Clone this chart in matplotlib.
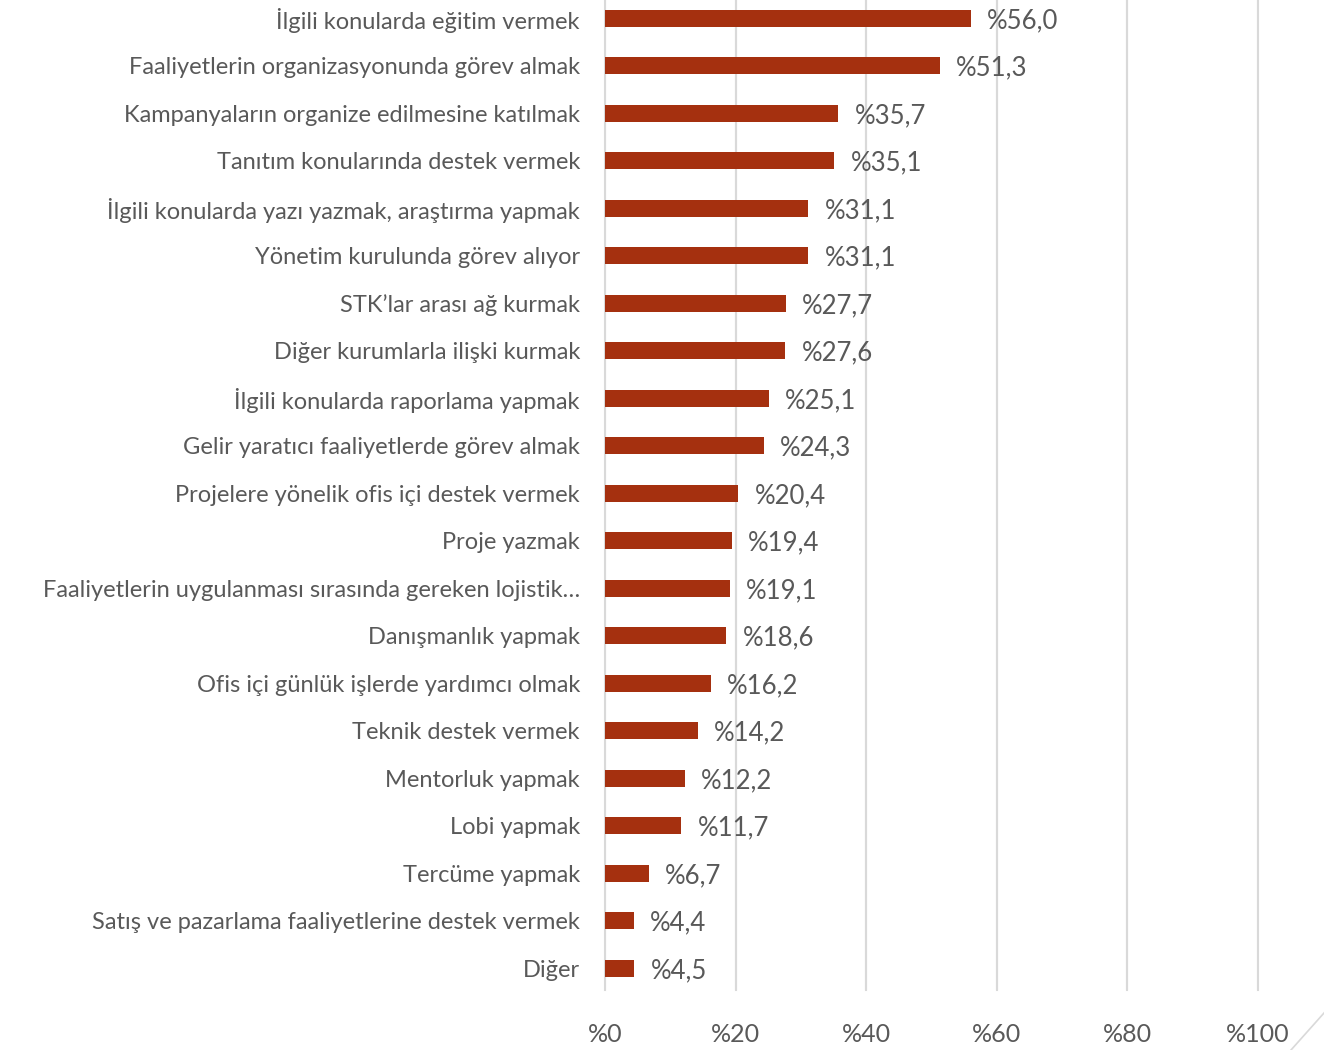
import matplotlib.pyplot as plt
import matplotlib.lines as mlines

plt.rcParams['font.family'] = ['Lato', 'DejaVu Sans']

categories = [
    "İlgili konularda eğitim vermek",
    "Faaliyetlerin organizasyonunda görev almak",
    "Kampanyaların organize edilmesine katılmak",
    "Tanıtım konularında destek vermek",
    "İlgili konularda yazı yazmak, araştırma yapmak",
    "Yönetim kurulunda görev alıyor",
    "STK’lar arası ağ kurmak",
    "Diğer kurumlarla ilişki kurmak",
    "İlgili konularda raporlama yapmak",
    "Gelir yaratıcı faaliyetlerde görev almak",
    "Projelere yönelik ofis içi destek vermek",
    "Proje yazmak",
    "Faaliyetlerin uygulanması sırasında gereken lojistik…",
    "Danışmanlık yapmak",
    "Ofis içi günlük işlerde yardımcı olmak",
    "Teknik destek vermek",
    "Mentorluk yapmak",
    "Lobi yapmak",
    "Tercüme yapmak",
    "Satış ve pazarlama faaliyetlerine destek vermek",
    "Diğer",
]
values = [56.0, 51.3, 35.7, 35.1, 31.1, 31.1, 27.7, 27.6, 25.1, 24.3, 20.4,
          19.4, 19.1, 18.6, 16.2, 14.2, 12.2, 11.7, 6.7, 4.4, 4.5]
ticks = [0, 20, 40, 60, 80, 100]
tick_labels = ["%0", "%20", "%40", "%60", "%80", "%100"]

bar_color = "#A5300F"
text_color = "#595959"

fig = plt.figure(figsize=(13.24, 10.5), dpi=100)
ax = fig.add_axes([605 / 1324, 1 - 990 / 1050, (1258 - 605) / 1324, 990 / 1050])

y = list(range(len(categories)))
ax.barh(y, values, height=0.36, color=bar_color, zorder=3)

for yi, v in zip(y, values):
    ax.text(v + 2.5, yi + 0.05, "%" + f"{v:.1f}".replace(".", ","),
            va="center", ha="left", fontsize=18.5, color=text_color)

ax.set_ylim(len(categories) - 1 + 0.46, -0.38)
ax.set_xlim(0, 100)
ax.set_yticks(y)
ax.set_yticklabels(categories, fontsize=17, color=text_color)
ax.set_xticks(ticks)
ax.set_xticklabels(tick_labels, fontsize=18, color=text_color)
ax.tick_params(axis="y", length=0, pad=18)
ax.tick_params(axis="x", length=0, pad=24)

ax.grid(axis="x", color="#D9D9D9", linewidth=1.5, zorder=0)
for gx in ticks:
    ax.axvline(gx, color="#D9D9D9", linewidth=1.5, zorder=0, clip_on=False)
for s in ax.spines.values():
    s.set_visible(False)

fig.add_artist(mlines.Line2D([1291 / 1324, 1.0], [0, 1 - 1013 / 1050],
                             color="#D9D9D9", linewidth=1.2))

fig.savefig("out.png", dpi=100)
